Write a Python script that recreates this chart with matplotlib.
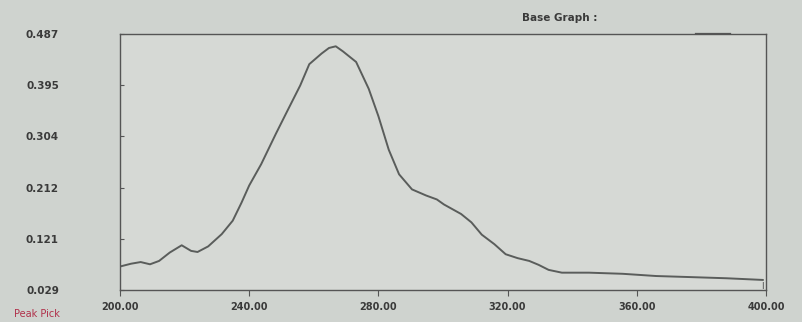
import matplotlib
matplotlib.use("Agg")
import matplotlib.pyplot as plt
from matplotlib.lines import Line2D

# values
wavelength = [200.0, 203.4, 206.4, 209.3, 212.1, 215.4, 219.1, 222.0, 224.0, 227.3,
              231.5, 234.9, 237.6, 240.0, 243.7, 248.3, 251.6, 255.8, 258.6, 262.4,
              264.7, 266.8, 269.0, 273.1, 277.0, 280.0, 283.2, 286.4, 290.4, 294.8,
              298.1, 300.3, 305.6, 308.8, 312.0, 315.9, 319.4, 323.1, 326.7, 329.6,
              332.7, 336.8, 345.2, 355.6, 366.0, 377.1, 387.8, 399.0]
absorbance = [0.071, 0.076, 0.079, 0.075, 0.081, 0.096, 0.109, 0.099, 0.097, 0.107,
              0.129, 0.153, 0.185, 0.216, 0.254, 0.309, 0.347, 0.395, 0.433, 0.452,
              0.462, 0.465, 0.456, 0.437, 0.389, 0.340, 0.280, 0.236, 0.209, 0.198,
              0.191, 0.182, 0.165, 0.150, 0.128, 0.111, 0.093, 0.086, 0.081, 0.074,
              0.065, 0.060, 0.060, 0.058, 0.054, 0.052, 0.050, 0.047]

x_ticks = [200, 240, 280, 320, 360, 400]
x_labels = ["200.00", "240.00", "280.00", "320.00", "360.00", "400.00"]
y_ticks = [0.029, 0.121, 0.212, 0.304, 0.395, 0.487]
y_labels = ["0.029", "0.121", "0.212", "0.304", "0.395", "0.487"]

W, H = 802, 322
fig = plt.figure(figsize=(W / 100, H / 100), dpi=100, facecolor="#cfd3cf")
ax = fig.add_axes([120 / W, (H - 290) / H, (766 - 120) / W, (290 - 34) / H], facecolor="#d6d9d5")

ax.plot(wavelength, absorbance, color="#5a5d5b", lw=1.4)
ax.set_xlim(200, 400)
ax.set_ylim(0.029, 0.487)

ax.set_xticks(x_ticks)
ax.set_xticklabels(x_labels)
ax.set_yticks(y_ticks)
ax.set_yticklabels(y_labels)
ax.tick_params(axis="x", direction="out", length=4, width=0.8, color="#555555",
               labelsize=7, labelcolor="#3a3a3a", pad=5)
ax.tick_params(axis="y", direction="in", length=3, width=0.8, color="#555555",
               labelsize=7.5, labelcolor="#3a3a3a", pad=44)
for lab in ax.get_xticklabels() + ax.get_yticklabels():
    lab.set_fontweight("bold")

for side in ax.spines.values():
    side.set_color("#555555")
    side.set_linewidth(1.0)

ax.text(399, 0.036, "I", ha="center", va="center", fontsize=6, color="#444444")

fig.text(522 / W, 1 - 18 / H, "Base Graph :", fontsize=7.5, fontweight="bold",
         color="#3a3a3a", va="center")
fig.add_artist(Line2D([695 / W, 730 / W], [1 - 33 / H, 1 - 33 / H], color="#555555", lw=0.9))
fig.text(14 / W, 1 - 314 / H, "Peak Pick", fontsize=7, color="#b0304a", va="center")

fig.savefig("out.png", dpi=100, facecolor=fig.get_facecolor())
